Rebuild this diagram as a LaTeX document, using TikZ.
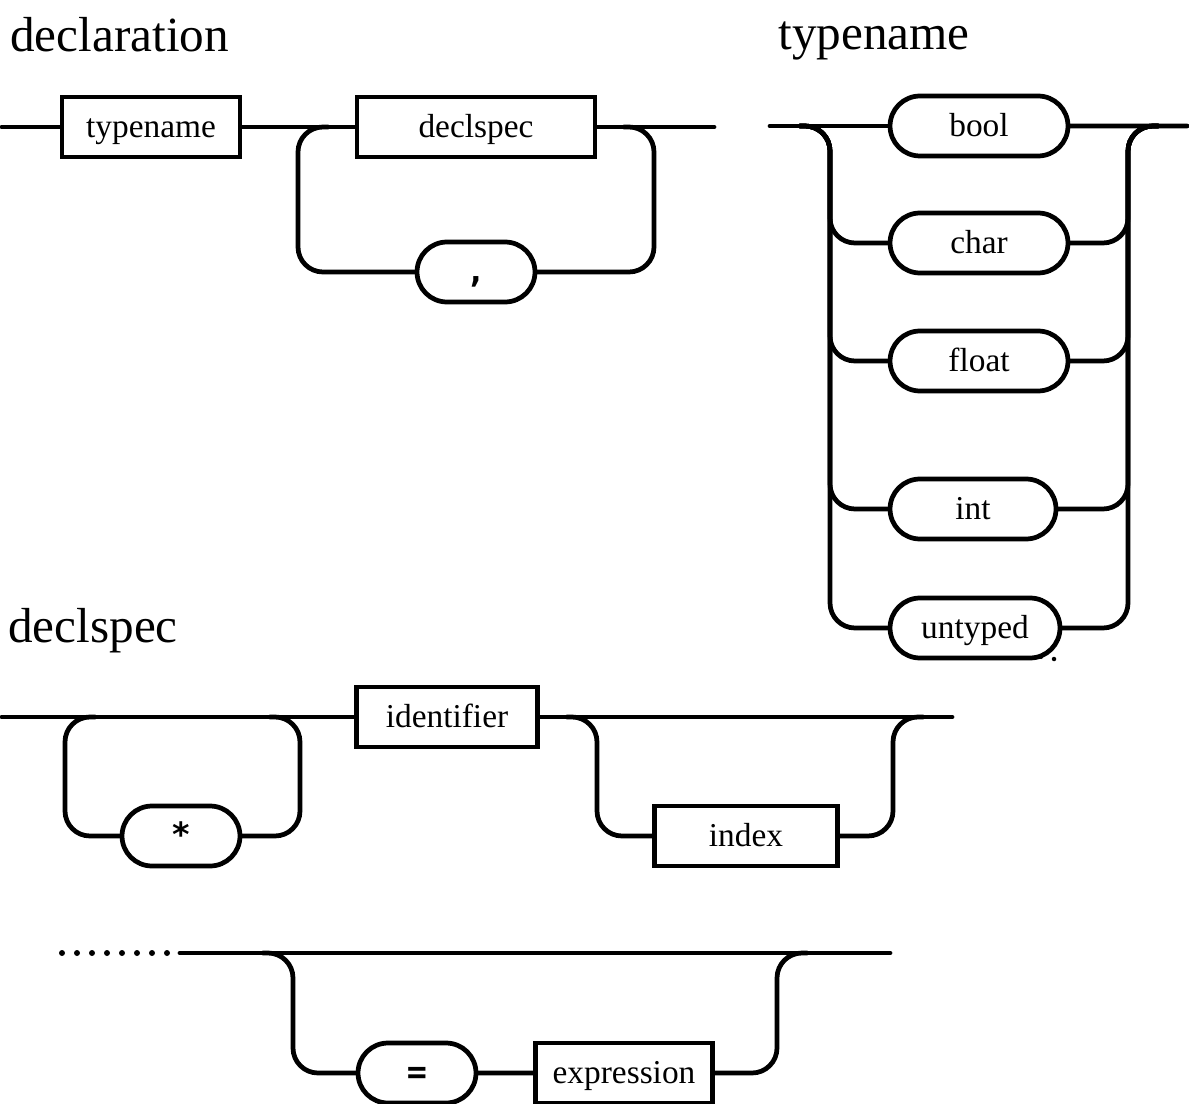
\documentclass[tikz,border=0pt]{standalone}
\usepackage{fontspec}
\setmainfont{Liberation Serif}
\newfontfamily\symfont{DejaVu Sans Mono}
\usetikzlibrary{shapes.misc}

\begin{document}
\begin{tikzpicture}[
    x=0.02cm, y=-0.02cm,
    nonterm/.style={
        rectangle,
        draw=black,
        line width=2.7pt,
        minimum height=1.2cm,
        inner sep=0pt,
        text height=13pt,
        text depth=0.5pt,
        font=\fontsize{19}{22}\selectfont
    },
    term/.style={
        rounded rectangle,
        draw=black,
        line width=2.7pt,
        minimum height=1.2cm,
        inner sep=0pt,
        text height=13pt,
        text depth=0.5pt,
        font=\fontsize{19}{22}\selectfont
    },
    symterm/.style={
        term,
        minimum width=2.36cm,
        font=\symfont\bfseries\fontsize{19}{22}\selectfont
    },
    title/.style={
        anchor=base west,
        inner sep=0pt,
        font=\fontsize{28}{32}\selectfont
    },
    track/.style={
        line width=2.7pt,
        rounded corners=0.5cm,
        line cap=round
    }
]
    \useasboundingbox (0,0) rectangle (1189,1104);

    % Titles
    \node[title] (declTitle) at (10,52)  {declaration};
    \node[title] (typeTitle) at (778,50) {typename};
    \node[title] (specTitle) at (8,642)  {declspec};

    % declaration
    \node[nonterm, minimum width=3.56cm] (typename) at (151,127) {typename};
    \node[nonterm, minimum width=4.76cm] (declspec) at (476,127) {declspec};
    \node[symterm] (comma) at (476,272) {,};
    \coordinate (declIn)  at (2,127);
    \coordinate (declOut) at (714,127);
    \coordinate (loopL)   at (298,127);
    \coordinate (loopR)   at (654,127);

    \draw[track] (declIn) -- (typename);
    \draw[track] (typename) -- (declspec);
    \draw[track] (declspec) -- (declOut);
    \draw[track] ([xshift=0.6cm]loopL) -- (loopL) -- (loopL |- comma) -- (comma);
    \draw[track] (comma) -- (loopR |- comma) -- (loopR) -- ([xshift=-0.6cm]loopR);

    % typename
    \node[term, minimum width=3.56cm] (bool)    at (979,126) {bool};
    \node[term, minimum width=3.56cm] (char)    at (979,243) {char};
    \node[term, minimum width=3.56cm] (float)   at (979,361) {float};
    \node[term, minimum width=3.32cm] (int)     at (973,509) {int};
    \node[term, minimum width=3.40cm] (untyped) at (975,628) {untyped};
    \coordinate (typeIn)  at (770,126);
    \coordinate (typeOut) at (1187,126);
    \coordinate (choiceL) at (830,126);
    \coordinate (choiceR) at (1128,126);

    \draw[track] (typeIn) -- (bool);
    \draw[track] (bool) -- (typeOut);
    \foreach \n in {char,float,int,untyped} {
        \draw[track] ([xshift=-0.6cm]choiceL) -- (choiceL) -- (choiceL |- \n) -- (\n);
        \draw[track] (\n) -- (choiceR |- \n) -- (choiceR) -- ([xshift=0.6cm]choiceR);
    }
    \fill (1041,657) circle (0.04cm);
    \fill (1054,659) circle (0.045cm);

    % declspec
    \node[nonterm, minimum width=3.62cm] (identifier) at (447,717) {identifier};
    \node[symterm] (star) at (181,836) {*};
    \node[nonterm, minimum width=3.66cm] (index) at (746,836) {index};
    \coordinate (specIn)  at (2,717);
    \coordinate (specOut) at (952,717);
    \coordinate (starL)   at (65,717);
    \coordinate (starR)   at (300,717);
    \coordinate (indexL)  at (597,717);
    \coordinate (indexR)  at (893,717);

    \draw[track] (specIn) -- (identifier);
    \draw[track] (identifier) -- (specOut);
    \draw[track] ([xshift=0.6cm]starL) -- (starL) -- (starL |- star) -- (star);
    \draw[track] (star) -- (starR |- star) -- (starR) -- ([xshift=-0.6cm]starR);
    \draw[track] ([xshift=-0.6cm]indexL) -- (indexL) -- (indexL |- index) -- (index);
    \draw[track] (index) -- (indexR |- index) -- (indexR) -- ([xshift=0.6cm]indexR);

    % initialiser
    \node[symterm] (equals) at (417,1073) {=};
    \node[nonterm, minimum width=3.54cm] (expression) at (624,1073) {expression};
    \coordinate (initIn)  at (180,953);
    \coordinate (initOut) at (890,953);
    \coordinate (eqL)     at (293,953);
    \coordinate (eqR)     at (777,953);

    \foreach \i in {0,...,7}
        \fill (62+15*\i,953) circle (0.06cm);
    \draw[track] (initIn) -- (initOut);
    \draw[track] ([xshift=-0.6cm]eqL) -- (eqL) -- (eqL |- equals) -- (equals);
    \draw[track] (equals) -- (expression);
    \draw[track] (expression) -- (eqR |- expression) -- (eqR) -- ([xshift=0.6cm]eqR);

\end{tikzpicture}
\end{document}
